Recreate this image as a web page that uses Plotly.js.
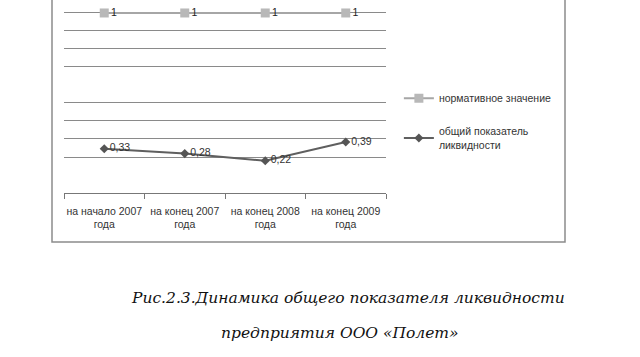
<!DOCTYPE html>
<html><head><meta charset="utf-8">
<script src="https://cdn.plot.ly/plotly-3.0.1.min.js"></script>
<style>html,body{margin:0;padding:0;background:#fff}#c{width:640px;height:357px}</style>
</head><body><div id="c"></div>
<script>
var categories = ['на начало 2007<br>года', 'на конец 2007<br>года', 'на конец 2008<br>года', 'на конец 2009<br>года'];
var normative = [1, 1, 1, 1];
var normativeLabels = ['1', '1', '1', '1'];
var liquidity = [0.246, 0.219, 0.179, 0.283];
var liquidityLabels = ['0,33', '0,28', '0,22', '0,39'];
var gridVals = [0.2, 0.3, 0.4, 0.5, 0.7, 0.8, 0.9, 1.0];

var traces = [
  {x: categories, y: normative, name: 'нормативное значение', type: 'scatter', mode: 'lines+markers+text',
   text: normativeLabels, textposition: 'middle right', cliponaxis: false,
   textfont: {family: 'Liberation Sans, Arial', size: 10.5, color: '#222'},
   line: {color: '#a6a6a6', width: 2}, marker: {symbol: 'square', size: 9, color: '#b8b8b8'},
   legendgroup: 'a'},
  {x: categories, y: liquidity, name: 'общий показатель<br>ликвидности', type: 'scatter', mode: 'lines+markers+text',
   text: liquidityLabels, textposition: 'middle right', cliponaxis: false,
   textfont: {family: 'Liberation Sans, Arial', size: 10.5, color: '#333'},
   line: {color: '#5f5f5f', width: 2}, marker: {symbol: 'diamond', size: 7, color: '#555'},
   legendgroup: 'b'}
];

var layout = {
  width: 640, height: 357,
  margin: {l: 64, r: 254, t: 11, b: 164},
  paper_bgcolor: '#fff', plot_bgcolor: '#fff',
  showlegend: true,
  legend: {x: 1.04, y: 0.6, xanchor: 'left', yanchor: 'top', traceorder: 'grouped', tracegroupgap: 15,
           font: {family: 'Liberation Sans, Arial', size: 10.5, color: '#333'}, bgcolor: 'rgba(0,0,0,0)'},
  xaxis: {type: 'category', range: [-0.5, 3.5], showline: true, linecolor: '#777', linewidth: 1, ticks: 'outside', tickson: 'boundaries',
          ticklen: 5, tickcolor: '#777', tickwidth: 1, showgrid: false, zeroline: false, ticklabelstandoff: 8, tickangle: 0,
          tickfont: {family: 'Liberation Sans, Arial', size: 10.5, color: '#333'}},
  yaxis: {range: [0, 1.011], tickvals: gridVals, showticklabels: false, showgrid: true, gridcolor: '#8a8a8a', gridwidth: 1,
          zeroline: false, showline: false, ticks: ''},
  shapes: [{type: 'rect', xref: 'paper', yref: 'paper', x0: (52 - 64) / 322, x1: (565 - 64) / 322,
            y0: -(242 - 193) / 182, y1: (193 + 3) / 182, line: {color: '#8c8c8c', width: 1.5}, fillcolor: 'rgba(0,0,0,0)'}],
  annotations: [
    {text: 'Рис.2.3.Динамика общего показателя ликвидности', xref: 'paper', yref: 'paper',
     x: (348 - 64) / 322, y: -(298 - 193) / 182, xanchor: 'center', yanchor: 'middle', showarrow: false,
     font: {family: 'DejaVu Serif, Liberation Serif', size: 15.5, color: '#111', style: 'italic'}},
    {text: 'предприятия ООО «Полет»', xref: 'paper', yref: 'paper',
     x: (340 - 64) / 322, y: -(333 - 193) / 182, xanchor: 'center', yanchor: 'middle', showarrow: false,
     font: {family: 'DejaVu Serif, Liberation Serif', size: 15.5, color: '#111', style: 'italic'}}
  ]
};
Plotly.newPlot('c', traces, layout, {displayModeBar: false, staticPlot: true});
</script></body></html>
